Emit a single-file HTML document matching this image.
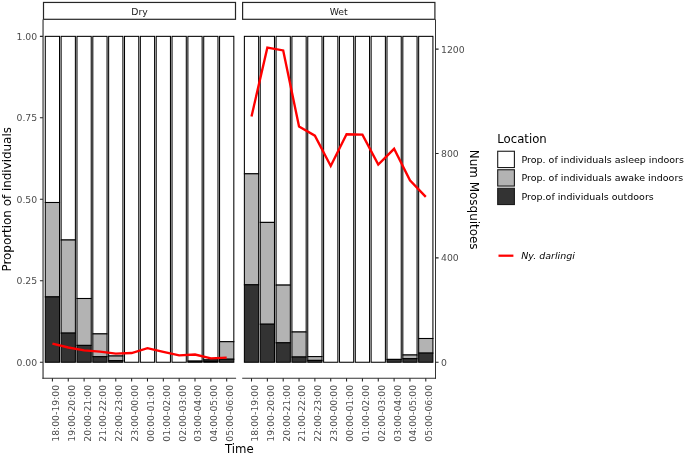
<!DOCTYPE html>
<html><head><meta charset="utf-8"><title>Plot</title>
<style>html,body{margin:0;padding:0;background:#fff}svg{display:block}text{font-family:"DejaVu Sans","Liberation Sans",sans-serif}</style></head><body>
<svg width="685" height="456" viewBox="0 0 685 456">
<rect width="685" height="456" fill="#fff"/>
<g stroke="#000" stroke-width="1.05">
<rect x="45.28" y="36.35" width="14.26" height="166.15" fill="#fff"/>
<rect x="45.28" y="202.50" width="14.26" height="94.40" fill="#b3b3b3"/>
<rect x="45.28" y="296.90" width="14.26" height="65.35" fill="#333"/>
<rect x="61.12" y="36.35" width="14.26" height="203.65" fill="#fff"/>
<rect x="61.12" y="240.00" width="14.26" height="93.10" fill="#b3b3b3"/>
<rect x="61.12" y="333.10" width="14.26" height="29.15" fill="#333"/>
<rect x="76.97" y="36.35" width="14.26" height="262.15" fill="#fff"/>
<rect x="76.97" y="298.50" width="14.26" height="46.90" fill="#b3b3b3"/>
<rect x="76.97" y="345.40" width="14.26" height="16.85" fill="#333"/>
<rect x="92.81" y="36.35" width="14.26" height="297.55" fill="#fff"/>
<rect x="92.81" y="333.90" width="14.26" height="22.80" fill="#b3b3b3"/>
<rect x="92.81" y="356.70" width="14.26" height="5.55" fill="#333"/>
<rect x="108.65" y="36.35" width="14.26" height="319.65" fill="#fff"/>
<rect x="108.65" y="356.00" width="14.26" height="4.70" fill="#b3b3b3"/>
<rect x="108.65" y="360.70" width="14.26" height="1.55" fill="#333"/>
<rect x="124.50" y="36.35" width="14.26" height="325.90" fill="#fff"/>
<rect x="140.34" y="36.35" width="14.26" height="325.90" fill="#fff"/>
<rect x="156.19" y="36.35" width="14.26" height="325.90" fill="#fff"/>
<rect x="172.03" y="36.35" width="14.26" height="325.90" fill="#fff"/>
<rect x="187.88" y="36.35" width="14.26" height="324.75" fill="#fff"/>
<rect x="187.88" y="361.10" width="14.26" height="1.15" fill="#333"/>
<rect x="203.72" y="36.35" width="14.26" height="323.55" fill="#fff"/>
<rect x="203.72" y="359.90" width="14.26" height="1.30" fill="#b3b3b3"/>
<rect x="203.72" y="361.20" width="14.26" height="1.05" fill="#333"/>
<rect x="219.56" y="36.35" width="14.26" height="305.35" fill="#fff"/>
<rect x="219.56" y="341.70" width="14.26" height="17.50" fill="#b3b3b3"/>
<rect x="219.56" y="359.20" width="14.26" height="3.05" fill="#333"/>
<rect x="244.38" y="36.35" width="14.26" height="137.45" fill="#fff"/>
<rect x="244.38" y="173.80" width="14.26" height="111.00" fill="#b3b3b3"/>
<rect x="244.38" y="284.80" width="14.26" height="77.45" fill="#333"/>
<rect x="260.22" y="36.35" width="14.26" height="186.05" fill="#fff"/>
<rect x="260.22" y="222.40" width="14.26" height="101.80" fill="#b3b3b3"/>
<rect x="260.22" y="324.20" width="14.26" height="38.05" fill="#333"/>
<rect x="276.07" y="36.35" width="14.26" height="248.75" fill="#fff"/>
<rect x="276.07" y="285.10" width="14.26" height="57.70" fill="#b3b3b3"/>
<rect x="276.07" y="342.80" width="14.26" height="19.45" fill="#333"/>
<rect x="291.91" y="36.35" width="14.26" height="295.65" fill="#fff"/>
<rect x="291.91" y="332.00" width="14.26" height="25.00" fill="#b3b3b3"/>
<rect x="291.91" y="357.00" width="14.26" height="5.25" fill="#333"/>
<rect x="307.75" y="36.35" width="14.26" height="320.25" fill="#fff"/>
<rect x="307.75" y="356.60" width="14.26" height="3.80" fill="#b3b3b3"/>
<rect x="307.75" y="360.40" width="14.26" height="1.85" fill="#333"/>
<rect x="323.60" y="36.35" width="14.26" height="325.90" fill="#fff"/>
<rect x="339.44" y="36.35" width="14.26" height="325.90" fill="#fff"/>
<rect x="355.29" y="36.35" width="14.26" height="325.90" fill="#fff"/>
<rect x="371.13" y="36.35" width="14.26" height="325.90" fill="#fff"/>
<rect x="386.98" y="36.35" width="14.26" height="323.05" fill="#fff"/>
<rect x="386.98" y="359.40" width="14.26" height="2.85" fill="#333"/>
<rect x="402.82" y="36.35" width="14.26" height="318.65" fill="#fff"/>
<rect x="402.82" y="355.00" width="14.26" height="3.70" fill="#b3b3b3"/>
<rect x="402.82" y="358.70" width="14.26" height="3.55" fill="#333"/>
<rect x="418.66" y="36.35" width="14.26" height="302.15" fill="#fff"/>
<rect x="418.66" y="338.50" width="14.26" height="14.60" fill="#b3b3b3"/>
<rect x="418.66" y="353.10" width="14.26" height="9.15" fill="#333"/>
</g>
<polyline points="52.41,343.60 68.25,347.50 84.10,350.40 99.94,351.60 115.78,353.60 131.63,353.00 147.47,348.20 163.32,351.90 179.16,355.30 195.00,354.50 210.85,358.40 226.69,357.70" fill="none" stroke="#f00" stroke-width="2.35" stroke-linejoin="miter"/>
<polyline points="251.51,116.40 267.35,47.70 283.20,50.40 299.04,126.60 314.88,135.70 330.73,166.00 346.57,134.30 362.42,134.60 378.26,164.50 394.10,148.80 409.95,180.20 425.79,196.90" fill="none" stroke="#f00" stroke-width="2.35" stroke-linejoin="miter"/>
<g fill="#fff" stroke="#262626" stroke-width="1.2">
<rect x="43.5" y="2.45" width="192.0" height="16.85"/>
<rect x="242.6" y="2.45" width="192.30" height="16.85"/>
</g>
<text x="139.55" y="14.55" font-size="9.3" text-anchor="middle" fill="#1a1a1a">Dry</text>
<text x="338.65" y="14.55" font-size="9.3" text-anchor="middle" fill="#1a1a1a">Wet</text>
<g stroke="#333" fill="none">
<path d="M43.05 19.4V378.8" stroke-width="1.15"/>
<path d="M42.4 378.3H236.1" stroke-width="1.1"/>
<path d="M242.2 378.3H436" stroke-width="1.1"/>
<path d="M435.5 19.4V378.8" stroke-width="1"/>
<path d="M52.41 378.3v3.2M68.25 378.3v3.2M84.10 378.3v3.2M99.94 378.3v3.2M115.78 378.3v3.2M131.63 378.3v3.2M147.47 378.3v3.2M163.32 378.3v3.2M179.16 378.3v3.2M195.00 378.3v3.2M210.85 378.3v3.2M226.69 378.3v3.2M251.51 378.3v3.2M267.35 378.3v3.2M283.20 378.3v3.2M299.04 378.3v3.2M314.88 378.3v3.2M330.73 378.3v3.2M346.57 378.3v3.2M362.42 378.3v3.2M378.26 378.3v3.2M394.10 378.3v3.2M409.95 378.3v3.2M425.79 378.3v3.2M39.9 362.25h3M39.9 280.77h3M39.9 199.30h3M39.9 117.83h3M39.9 36.35h3M435.5 362.25h3.1M435.5 257.87h3.1M435.5 153.48h3.1M435.5 49.10h3.1" stroke-width="1.05" stroke="#222"/>
</g>
<g font-size="9.3" fill="#4d4d4d">
<text x="37.2" y="365.65" text-anchor="end">0.00</text>
<text x="37.2" y="284.17" text-anchor="end">0.25</text>
<text x="37.2" y="202.70" text-anchor="end">0.50</text>
<text x="37.2" y="121.23" text-anchor="end">0.75</text>
<text x="37.2" y="39.75" text-anchor="end">1.00</text>
<text x="441.0" y="365.80">0</text>
<text x="441.0" y="261.42">400</text>
<text x="441.0" y="157.03">800</text>
<text x="441.0" y="52.65">1200</text>
<text transform="translate(58.81,384.8) rotate(-90)" text-anchor="end">18:00-19:00</text>
<text transform="translate(74.65,384.8) rotate(-90)" text-anchor="end">19:00-20:00</text>
<text transform="translate(90.50,384.8) rotate(-90)" text-anchor="end">20:00-21:00</text>
<text transform="translate(106.34,384.8) rotate(-90)" text-anchor="end">21:00-22:00</text>
<text transform="translate(122.18,384.8) rotate(-90)" text-anchor="end">22:00-23:00</text>
<text transform="translate(138.03,384.8) rotate(-90)" text-anchor="end">23:00-00:00</text>
<text transform="translate(153.87,384.8) rotate(-90)" text-anchor="end">00:00-01:00</text>
<text transform="translate(169.72,384.8) rotate(-90)" text-anchor="end">01:00-02:00</text>
<text transform="translate(185.56,384.8) rotate(-90)" text-anchor="end">02:00-03:00</text>
<text transform="translate(201.40,384.8) rotate(-90)" text-anchor="end">03:00-04:00</text>
<text transform="translate(217.25,384.8) rotate(-90)" text-anchor="end">04:00-05:00</text>
<text transform="translate(233.09,384.8) rotate(-90)" text-anchor="end">05:00-06:00</text>
<text transform="translate(257.91,384.8) rotate(-90)" text-anchor="end">18:00-19:00</text>
<text transform="translate(273.75,384.8) rotate(-90)" text-anchor="end">19:00-20:00</text>
<text transform="translate(289.60,384.8) rotate(-90)" text-anchor="end">20:00-21:00</text>
<text transform="translate(305.44,384.8) rotate(-90)" text-anchor="end">21:00-22:00</text>
<text transform="translate(321.28,384.8) rotate(-90)" text-anchor="end">22:00-23:00</text>
<text transform="translate(337.13,384.8) rotate(-90)" text-anchor="end">23:00-00:00</text>
<text transform="translate(352.97,384.8) rotate(-90)" text-anchor="end">00:00-01:00</text>
<text transform="translate(368.82,384.8) rotate(-90)" text-anchor="end">01:00-02:00</text>
<text transform="translate(384.66,384.8) rotate(-90)" text-anchor="end">02:00-03:00</text>
<text transform="translate(400.50,384.8) rotate(-90)" text-anchor="end">03:00-04:00</text>
<text transform="translate(416.35,384.8) rotate(-90)" text-anchor="end">04:00-05:00</text>
<text transform="translate(432.19,384.8) rotate(-90)" text-anchor="end">05:00-06:00</text>
</g>
<g font-size="11.6" fill="#000">
<text x="239.3" y="453.2" text-anchor="middle" font-size="11.72">Time</text>
<text transform="translate(11.4,199.3) rotate(-90)" text-anchor="middle" font-size="11.92">Proportion of individuals</text>
<text transform="translate(469.9,199.7) rotate(90)" text-anchor="middle" font-size="11.95">Num Mosquitoes</text>
<text x="497.3" y="143.3" font-size="11.7">Location</text>
</g>
<g stroke="#1a1a1a" stroke-width="1.1">
<rect x="497.7" y="151.25" width="16.7" height="16.3" fill="#fff"/>
<rect x="497.7" y="169.75" width="16.7" height="16.3" fill="#b3b3b3"/>
<rect x="497.7" y="188.25" width="16.7" height="16.3" fill="#333"/>
</g>
<g font-size="9.49" fill="#000">
<text x="521.5" y="162.90">Prop. of individuals asleep indoors</text>
<text x="521.5" y="181.40">Prop. of individuals awake indoors</text>
<text x="521.5" y="199.90">Prop.of individuals outdoors</text>
<text x="521.2" y="258.7" font-style="italic">Ny. darlingi</text>
</g>
<path d="M498.5 255.7H513.4" stroke="#f00" stroke-width="2.25"/>
</svg></body></html>
